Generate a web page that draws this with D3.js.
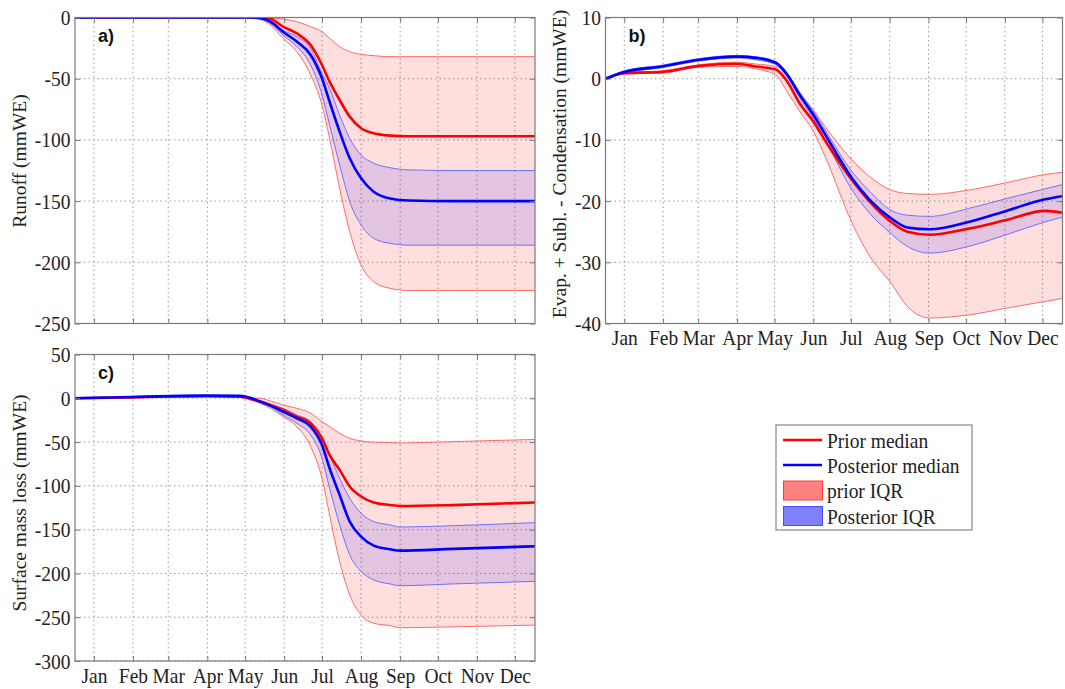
<!DOCTYPE html>
<html>
<head>
<meta charset="utf-8">
<script src="https://cdnjs.cloudflare.com/ajax/libs/d3/7.8.5/d3.min.js"></script>
<style>
  body { margin: 0; background: #fff; }
  svg text { font-family: "Liberation Serif", "Times New Roman", serif; }
</style>
</head>
<body>
<svg width="1065" height="689"></svg>
<script>
// month labels sit on the 15th of each month (day of year)
var months = ["Jan", "Feb", "Mar", "Apr", "May", "Jun", "Jul", "Aug", "Sep", "Oct", "Nov", "Dec"];
var monthDays = [15, 46, 74, 105, 135, 166, 196, 227, 258, 288, 319, 349];

// a) runoff
var daysA     = [0, 131, 139, 147, 155, 165, 176, 187, 196, 202, 210, 218, 227, 237, 250, 265, 300, 365];
var priorMedA = [0, 0, 0, 0, -1, -7.5, -13, -22.5, -38.8, -52.4, -67.4, -81, -90.5, -94.6, -96.5, -97, -97, -97];
var priorHiA  = [0, 0, 0, 0, -0.5, -1.2, -3.4, -7.5, -11.6, -17, -23.8, -27.9, -30.1, -31.2, -32, -32, -32, -32];
var priorLoA  = [0, 0, 0, -1.5, -6.1, -17, -27.9, -47, -71.5, -98.7, -139.6, -175, -202.2, -215.8, -221.3, -223, -223, -223];
var postMedA  = [0, 0, 0, -0.5, -3.4, -11.6, -19.7, -30.6, -49.7, -68.8, -93.3, -115, -131.4, -142.3, -147.8, -149.5, -150, -150];
var postHiA   = [0, 0, 0, -0.3, -2.7, -10.2, -15.7, -25.2, -45.6, -57.9, -79.7, -98.7, -112.3, -119, -122.7, -124.5, -125, -125];
var postLoA   = [0, 0, 0, -1, -4.8, -14.3, -23.8, -38.8, -63.3, -87.8, -120.5, -150.4, -169.5, -180.4, -184.5, -186, -186, -186];
var ticksA = [0, -50, -100, -150, -200, -250];

// b) evap + subl - condensation
var daysB     = [0, 15, 45, 75, 105, 120, 136, 145, 155, 166, 176, 197, 211, 228, 241, 259, 290, 320, 351, 365];
var priorMedB = [0, 0.9, 1.1, 2.1, 2.45, 2.0, 1.5, -0.4, -4.0, -7.0, -10.3, -16.6, -20.1, -23.4, -25.0, -25.5, -24.5, -23.1, -21.6, -21.9];
var priorHiB  = [0, 1.0, 1.3, 2.3, 2.7, 2.4, 2.0, 0.8, -2.3, -5.1, -8.0, -13.3, -16.0, -18.2, -18.75, -18.9, -18.2, -17.0, -15.65, -15.3];
var priorLoB  = [0, 0.8, 0.9, 1.9, 2.0, 1.6, 0.6, -2.1, -5.3, -8.6, -13.0, -23.6, -29.0, -33.4, -37.2, -39.1, -38.6, -37.5, -36.4, -35.9];
var postMedB  = [0, 1.1, 2.0, 3.1, 3.6, 3.4, 2.6, 0.7, -2.6, -5.9, -9.3, -16.3, -19.8, -22.8, -24.3, -24.6, -23.4, -21.6, -19.7, -19.2];
var postHiB   = [0, 1.3, 2.2, 3.3, 3.8, 3.6, 2.8, 1.0, -2.2, -5.3, -8.6, -15.2, -18.4, -21.5, -22.3, -22.5, -21.2, -19.6, -18.0, -17.3];
var postLoB   = [0, 0.9, 1.8, 2.9, 3.4, 3.1, 2.3, 0.3, -3.1, -6.5, -10.2, -18.2, -22.0, -25.3, -27.4, -28.5, -27.4, -25.5, -23.4, -22.6];
var ticksB = [10, 0, -10, -20, -30, -40];

// c) surface mass loss
var daysC     = [0, 45, 75, 105, 131, 139, 147, 155, 165, 176, 187, 196, 202, 210, 218, 227, 237, 250, 258, 300, 365];
var priorMedC = [0, 1, 2, 2.5, 1.9, -0.5, -3.8, -7.6, -13.3, -20.9, -28.5, -45.6, -64.7, -81.8, -100.8, -112.2, -119, -121.8, -123, -122, -119];
var priorHiC  = [0, 1.1, 2.1, 2.6, 2.0, 0.5, 0, -3, -7.6, -11.4, -17.1, -26.6, -32.3, -39.9, -45.7, -48.7, -50.2, -50.6, -51, -49.5, -47];
var priorLoC  = [0, 0.9, 1.9, 2.3, 1.5, -2, -5.7, -11.4, -20.9, -32.3, -55.2, -91.3, -133.2, -186.5, -224.6, -247.4, -256.9, -259.6, -262, -261, -259];
var postMedC  = [0, 1.5, 2.5, 3, 2.7, 0.5, -3.8, -8.4, -15.2, -22.8, -32.3, -53.3, -79.9, -110.4, -140.8, -158, -168.2, -172.4, -174, -172, -169];
var postHiC   = [0, 1.6, 2.7, 3.2, 2.8, 0.7, -3, -6.8, -11.4, -19, -26.6, -45.6, -64.7, -91.3, -114.2, -131.3, -140.8, -144.6, -147, -145.5, -142];
var postLoC   = [0, 1.4, 2.3, 2.8, 2.5, 0, -5, -9.5, -19, -28.5, -41.9, -68.5, -102.7, -144.6, -178.9, -197.9, -207.4, -212, -214, -212, -209];
var ticksC = [50, 0, -50, -100, -150, -200, -250, -300];

var legendLabels = ["Prior median", "Posterior median", "prior IQR", "Posterior IQR"];

var svg = d3.select("svg");
var FS = 22;          // text is a bit squeezed sideways in the original figure
var SQ = "scale(0.886,1)";

function zip(days, med, hi, lo) {
    return days.map(function (d, i) { return { day: d, med: med[i], hi: hi[i], lo: lo[i] }; });
}

function drawPanel(p) {
    var w = p.w, h = p.h;
    var g = svg.append("g").attr("transform", "translate(" + p.left + "," + p.top + ")");
    var x = d3.scaleLinear().domain([0, 365]).range([0, w]);
    var y = d3.scaleLinear().domain(p.yDomain).range([h, 0]);

    // grid
    g.append("g").selectAll("line").data(monthDays).enter().append("line")
        .attr("x1", function (d) { return x(d); }).attr("x2", function (d) { return x(d); })
        .attr("y1", 0).attr("y2", h)
        .attr("stroke", "#9a9a9a").attr("stroke-width", 1).attr("stroke-dasharray", "1.5,3");
    g.append("g").selectAll("line").data(p.yTicks).enter().append("line")
        .attr("x1", 0).attr("x2", w)
        .attr("y1", function (d) { return y(d); }).attr("y2", function (d) { return y(d); })
        .attr("stroke", "#9a9a9a").attr("stroke-width", 1).attr("stroke-dasharray", "1.5,3");

    var id = "clip" + p.name;
    g.append("clipPath").attr("id", id).append("rect").attr("width", w).attr("height", h);
    var plot = g.append("g").attr("clip-path", "url(#" + id + ")");

    var curve = d3.curveMonotoneX;
    var area = d3.area().curve(curve).x(function (d) { return x(d.day); })
        .y0(function (d) { return y(d.lo); }).y1(function (d) { return y(d.hi); });
    var line = function (key) {
        return d3.line().curve(curve).x(function (d) { return x(d.day); }).y(function (d) { return y(d[key]); });
    };

    var prior = p.prior, post = p.post;
    plot.append("path").datum(prior).attr("d", area).attr("fill", "rgba(255,0,0,0.13)");
    ["hi", "lo"].forEach(function (k) {
        plot.append("path").datum(prior).attr("d", line(k)).attr("fill", "none")
            .attr("stroke", "#ff6a6a").attr("stroke-width", 1);
    });
    plot.append("path").datum(post).attr("d", area).attr("fill", "rgba(0,0,255,0.11)");
    ["hi", "lo"].forEach(function (k) {
        plot.append("path").datum(post).attr("d", line(k)).attr("fill", "none")
            .attr("stroke", "#7070ff").attr("stroke-width", 1);
    });
    plot.append("path").datum(prior).attr("d", line("med")).attr("fill", "none")
        .attr("stroke", "#ff0000").attr("stroke-width", 2.6);
    plot.append("path").datum(post).attr("d", line("med")).attr("fill", "none")
        .attr("stroke", "#0000ff").attr("stroke-width", 2.6);

    // ticks on all sides, pointing inward
    var fmt = function (d) { return String(d); };
    var yl = g.append("g").call(d3.axisLeft(y).tickValues(p.yTicks).tickSize(-5).tickPadding(5).tickFormat(fmt));
    var yr = g.append("g").attr("transform", "translate(" + w + ",0)")
        .call(d3.axisRight(y).tickValues(p.yTicks).tickSize(-5).tickFormat(""));
    var xb = g.append("g").attr("transform", "translate(0," + h + ")")
        .call(d3.axisBottom(x).tickValues(monthDays).tickSize(-5).tickFormat(function (d, i) {
            return p.months ? months[i] : "";
        }));
    var xt = g.append("g").call(d3.axisTop(x).tickValues(monthDays).tickSize(-5).tickFormat(""));
    [yl, yr, xb, xt].forEach(function (a) {
        a.select(".domain").remove();
        a.selectAll("line").attr("stroke", "#777");
        a.selectAll("text").attr("font-family", "Liberation Serif, Times New Roman, serif")
            .attr("font-size", FS).attr("fill", "#222").attr("transform", SQ);
    });
    xb.selectAll("text").attr("y", 22).attr("dy", 0);

    g.append("rect").attr("width", w).attr("height", h)
        .attr("fill", "none").attr("stroke", "#7a7a7a").attr("stroke-width", 1.2);

    g.append("text").attr("x", 23).attr("y", 24)
        .style("font-family", "Liberation Sans, Arial, sans-serif")
        .attr("font-weight", "bold").attr("font-size", 18).attr("fill", "#111")
        .text(p.name + ")");

    svg.append("text")
        .attr("transform", "translate(" + p.ylabX + "," + p.ylabY + ") rotate(-90)")
        .attr("text-anchor", "middle").attr("font-size", 19.5).attr("fill", "#222")
        .text(p.ylabel);
}

drawPanel({
    name: "a", left: 75, top: 17.5, w: 460, h: 306, yDomain: [-250, 0], yTicks: ticksA, months: false,
    prior: zip(daysA, priorMedA, priorHiA, priorLoA), post: zip(daysA, postMedA, postHiA, postLoA),
    ylabel: "Runoff (mmWE)", ylabX: 26, ylabY: 161
});
drawPanel({
    name: "b", left: 605.5, top: 17.5, w: 457, h: 306, yDomain: [-40, 10], yTicks: ticksB, months: true,
    prior: zip(daysB, priorMedB, priorHiB, priorLoB), post: zip(daysB, postMedB, postHiB, postLoB),
    ylabel: "Evap. + Subl. - Condensation (mmWE)", ylabX: 566, ylabY: 164
});
drawPanel({
    name: "c", left: 75, top: 354.5, w: 460, h: 306.5, yDomain: [-300, 50], yTicks: ticksC, months: true,
    prior: zip(daysC, priorMedC, priorHiC, priorLoC), post: zip(daysC, postMedC, postHiC, postLoC),
    ylabel: "Surface mass loss (mmWE)", ylabX: 26, ylabY: 503
});

// legend
var lg = svg.append("g").attr("transform", "translate(776,425)");
lg.append("rect").attr("width", 196).attr("height", 105)
    .attr("fill", "#fff").attr("stroke", "#888").attr("stroke-width", 1.2);
var rowY = [15, 40, 65.5, 91];
var kinds = [
    { type: "line", color: "#ff0000" },
    { type: "line", color: "#0000ff" },
    { type: "patch", fill: "#ff8080", stroke: "#ff3a3a" },
    { type: "patch", fill: "#8080ff", stroke: "#4a4aff" }
];
legendLabels.forEach(function (lab, i) {
    var k = kinds[i], cy = rowY[i];
    if (k.type === "line") {
        lg.append("line").attr("x1", 7).attr("x2", 46).attr("y1", cy).attr("y2", cy)
            .attr("stroke", k.color).attr("stroke-width", 2.6);
    } else {
        lg.append("rect").attr("x", 7.5).attr("y", cy - 9.5).attr("width", 39).attr("height", 19)
            .attr("fill", k.fill).attr("stroke", k.stroke).attr("stroke-width", 1);
    }
    lg.append("text").attr("transform", "translate(51," + (cy + 7.5) + ") " + SQ)
        .attr("font-size", FS).attr("fill", "#222").text(lab);
});
</script>
</body>
</html>
